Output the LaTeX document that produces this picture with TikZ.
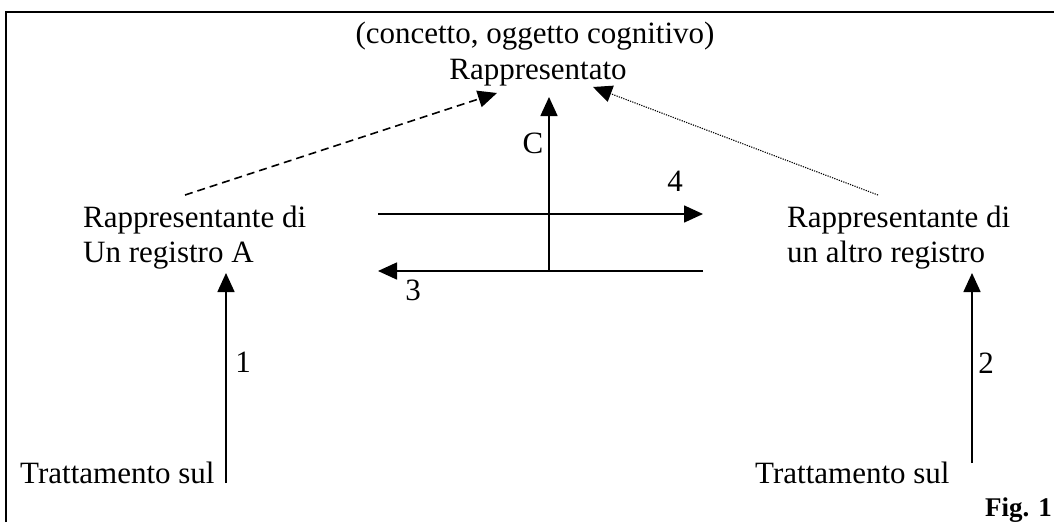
\documentclass[tikz,border=0pt]{standalone}
\usepackage{fontspec}
\setmainfont{Liberation Serif}
\usetikzlibrary{arrows.meta}

\begin{document}
\begin{tikzpicture}[x=1pt,y=-1pt,
  txt/.style={inner sep=0pt,font=\fontsize{31}{35}\selectfont},
  arr/.style={line width=1.6pt,-{Triangle[length=19pt,width=17pt]}}]
\useasboundingbox (0,0) rectangle (1054,522);
% frame
\draw[line width=2.4pt](6,522)--(6,12)--(1054,12);
% texts
\node[txt,anchor=base] (ogg) at (535,43) {(concetto, oggetto cognitivo)};
\node[txt,anchor=base] (rapp) at (538,79) {Rappresentato};
\node[txt,anchor=base west,align=left] (regA) at (83,262) {Rappresentante di\\Un registro A};
\node[txt,anchor=base west,align=left] (regB) at (787,262) {Rappresentante di\\un altro registro};
\node[txt,anchor=base west] (tratA) at (20,483) {Trattamento sul};
\node[txt,anchor=base west] (tratB) at (755,483) {Trattamento sul};
\node[txt,anchor=base east,font=\fontsize{27}{30}\selectfont\bfseries] (fig) at (1052,516) {Fig. 1};
% end points
\coordinate (dA) at (185,195);
\coordinate (dR) at (497,93);
\coordinate (pB) at (878,195);
\coordinate (pR) at (593,87);
\coordinate (c0) at (549,271);
\coordinate (c1) at (549,97);
\coordinate (q0) at (378,214);
\coordinate (q1) at (703,214);
\coordinate (t0) at (703,271);
\coordinate (t1) at (378,271);
\coordinate (u0) at (226,483);
\coordinate (u1) at (226,273);
\coordinate (v0) at (972,463);
\coordinate (v1) at (972,273);
% connectors
\draw[arr,dash pattern=on 8pt off 5pt](dA)--(dR);
\draw[arr,line width=1.1pt,dash pattern=on 1.2pt off 1.2pt](pB)--(pR);
\draw[arr](c0)--(c1);
\draw[arr](q0)--(q1);
\draw[arr](t0)--(t1);
\draw[arr](u0)--(u1);
\draw[arr](v0)--(v1);
% labels
\node[txt] (lC) at (533,143) {C};
\node[txt] (l4) at (675,181) {4};
\node[txt] (l3) at (413,290) {3};
\node[txt] (l1) at (243,362) {1};
\node[txt] (l2) at (986,363) {2};
\end{tikzpicture}
\end{document}
